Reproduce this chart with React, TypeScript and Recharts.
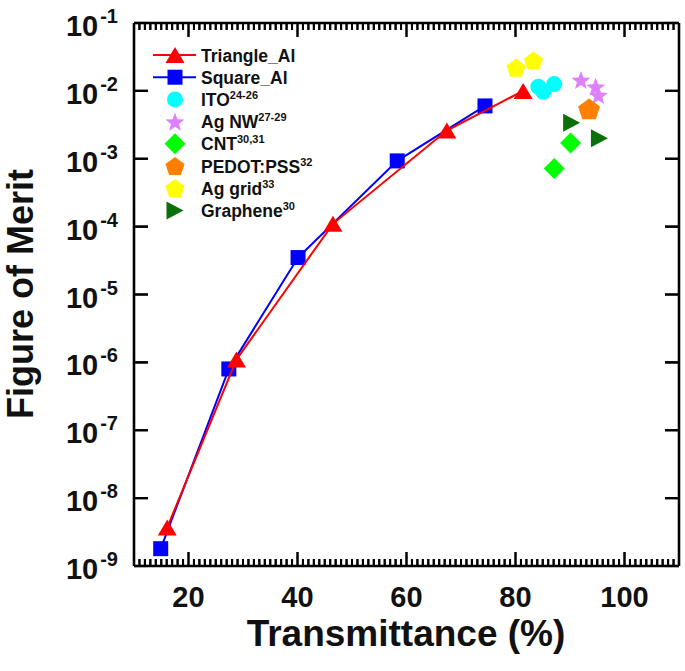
import React from 'react';
import { ScatterChart, Scatter, XAxis, YAxis, ReferenceLine } from 'recharts';

const FONT = '"Liberation Sans", Arial, Helvetica, sans-serif';

// ---- data (Transmittance %, Figure of Merit) ----
const triangleAlT = [16.1, 28.8, 46.5, 67.4, 81.4];
const triangleAlF = [3.7e-9, 1.1e-6, 1.1e-4, 2.6e-3, 1.0e-2];
const squareAlT = [14.9, 27.4, 40.1, 58.3, 74.4];
const squareAlF = [1.8e-9, 8.0e-7, 3.5e-5, 9.3e-4, 6.0e-3];
const itoT = [84.2, 85.1, 87.1];
const itoF = [1.15e-2, 9.7e-3, 1.26e-2];
const agnwT = [92.0, 94.7, 95.2];
const agnwF = [1.45e-2, 1.15e-2, 8.7e-3];
const cntT = [87.1, 90.1];
const cntF = [7.2e-4, 1.7e-3];
const pedotT = [93.5];
const pedotF = [5.4e-3];
const aggridT = [80.1, 83.3];
const aggridF = [2.2e-2, 2.8e-2];
const grapheneT = [90.3, 95.4];
const grapheneF = [3.4e-3, 2.0e-3];

// ---- ticks ----
const xMajorTicks = [20, 40, 60, 80, 100];
const xDomain: [number, number] = [10, 110];
const yDomain: [number, number] = [1e-9, 1e-1];
const yTickExponents = [-9, -8, -7, -6, -5, -4, -3, -2, -1];
const yTicks = yTickExponents.map((e) => Math.pow(10, e));
const xAllTicks = Array.from({ length: xDomain[1] - xDomain[0] + 1 }, (_, i) => xDomain[0] + i);

// ---- layout ----
const W = 685;
const H = 671;
const MARGIN = { top: 23, right: 6, bottom: 45, left: 10 };
const XAXIS_H = 60;
const YAXIS_W = 124;
const PLOT_W = W - MARGIN.left - MARGIN.right - YAXIS_W;
const PLOT_H = H - MARGIN.top - MARGIN.bottom - XAXIS_H;
const PX_PER_DECADE = PLOT_H / (yTickExponents.length - 1);
const PX_PER_UNIT = PLOT_W / (xDomain[1] - xDomain[0]);
const MAJOR_LEN = 14;
const MINOR_LEN = 7;

const toPoints = (xs: number[], ys: number[]) => xs.map((x, i) => ({ x, y: ys[i] }));

// ---- marker shapes ----
const Tri = ({ cx, cy, color, w = 19, h = 16 }: any) => (
  <polygon points={`${cx},${cy - h / 2} ${cx + w / 2},${cy + h / 2} ${cx - w / 2},${cy + h / 2}`} fill={color} />
);
const RTri = ({ cx, cy, color, w = 17, h = 18 }: any) => (
  <polygon points={`${cx + w / 2},${cy} ${cx - w / 2},${cy - h / 2} ${cx - w / 2},${cy + h / 2}`} fill={color} />
);
const Sq = ({ cx, cy, color, s = 15 }: any) => <rect x={cx - s / 2} y={cy - s / 2} width={s} height={s} fill={color} />;
const Circ = ({ cx, cy, color, r = 8 }: any) => <circle cx={cx} cy={cy} r={r} fill={color} />;
const Diamond = ({ cx, cy, color, r = 10.5 }: any) => (
  <polygon points={`${cx},${cy - r} ${cx + r},${cy} ${cx},${cy + r} ${cx - r},${cy}`} fill={color} />
);
const polyPts = (cx: number, cy: number, n: number, rOuter: number, rInner?: number) => {
  const pts: string[] = [];
  const total = rInner ? n * 2 : n;
  for (let i = 0; i < total; i++) {
    const r = rInner ? (i % 2 === 0 ? rOuter : rInner) : rOuter;
    const a = -Math.PI / 2 + (i * 2 * Math.PI) / total;
    pts.push(`${cx + r * Math.cos(a)},${cy + r * Math.sin(a)}`);
  }
  return pts.join(' ');
};
const Penta = ({ cx, cy, color, r = 10 }: any) => <polygon points={polyPts(cx, cy + 1, 5, r)} fill={color} />;
const Star = ({ cx, cy, color, r = 10 }: any) => <polygon points={polyPts(cx, cy + 1, 5, r, r * 0.42)} fill={color} />;

const RED = '#ff0000';
const BLUE = '#0000ff';
const CYAN = '#00ffff';
const VIOLET = '#df80ff';
const GREEN = '#00ff00';
const ORANGE = '#ff7f00';
const YELLOW = '#ffff00';
const DKGREEN = '#0a700a';

// ---- axis ticks: labels + inward marks (mirrored on top / right) ----
const renderBottomTick = (props: any) => {
  const x = Number(props.x);
  const y = Number(props.y);
  const v = props.payload.value;
  const major = xMajorTicks.includes(v);
  const len = major ? MAJOR_LEN : MINOR_LEN;
  const yt = y - PLOT_H;
  return (
    <g key={`b${v}`}>
      <path d={`M${x},${y}L${x},${y - len}M${x},${yt}L${x},${yt + len}`} stroke="#000" strokeWidth={2} fill="none" />
      {major && (
        <text x={x} y={y + 41} textAnchor="middle" fontFamily={FONT} fontWeight="bold" fontSize={29} fill="#111">
          {v}
        </text>
      )}
    </g>
  );
};
const renderLeftTick = (props: any) => {
  const x = Number(props.x);
  const y = Number(props.y);
  const v = props.payload.value;
  const exp = Math.round(Math.log10(v));
  const xr = x + PLOT_W;
  return (
    <g key={`l${exp}`}>
      <path d={`M${x},${y}L${x + MAJOR_LEN},${y}M${xr},${y}L${xr - MAJOR_LEN},${y}`} stroke="#000" strokeWidth={2.2} fill="none" />
      <text x={x - 16} y={y + 13} textAnchor="end" fontFamily={FONT} fontWeight="bold" fontSize={29} fill="#111">
        <tspan>10</tspan>
        <tspan fontSize={20} dx={2} dy={-13}>{`-${Math.abs(exp)}`}</tspan>
      </text>
    </g>
  );
};

// ---- same inward marks also as reference segments (library scales) ----
const tickSegments = () => {
  const out: any[] = [];
  const yBot = yDomain[0];
  const yTop = yDomain[1];
  xAllTicks.forEach((v) => {
    const len = xMajorTicks.includes(v) ? MAJOR_LEN : MINOR_LEN;
    const f = Math.pow(10, len / PX_PER_DECADE);
    out.push(
      <ReferenceLine key={`xb${v}`} xAxisId="b" yAxisId="l" segment={[{ x: v, y: yBot }, { x: v, y: yBot * f }]} stroke="#000" strokeWidth={2} ifOverflow="visible" />
    );
    out.push(
      <ReferenceLine key={`xt${v}`} xAxisId="b" yAxisId="l" segment={[{ x: v, y: yTop }, { x: v, y: yTop / f }]} stroke="#000" strokeWidth={2} ifOverflow="visible" />
    );
  });
  const dx = MAJOR_LEN / PX_PER_UNIT;
  yTicks.forEach((t, i) => {
    out.push(
      <ReferenceLine key={`yl${i}`} xAxisId="b" yAxisId="l" segment={[{ x: xDomain[0], y: t }, { x: xDomain[0] + dx, y: t }]} stroke="#000" strokeWidth={2.2} ifOverflow="visible" />
    );
    out.push(
      <ReferenceLine key={`yr${i}`} xAxisId="b" yAxisId="l" segment={[{ x: xDomain[1], y: t }, { x: xDomain[1] - dx, y: t }]} stroke="#000" strokeWidth={2.2} ifOverflow="visible" />
    );
  });
  return out;
};

// ---- legend ----
const legendItems = [
  { name: 'Triangle_Al', sup: '', color: RED, shape: Tri, line: true },
  { name: 'Square_Al', sup: '', color: BLUE, shape: Sq, line: true },
  { name: 'ITO', sup: '24-26', color: CYAN, shape: Circ, line: false },
  { name: 'Ag NW', sup: '27-29', color: VIOLET, shape: Star, line: false },
  { name: 'CNT', sup: '30,31', color: GREEN, shape: Diamond, line: false },
  { name: 'PEDOT:PSS', sup: '32', color: ORANGE, shape: Penta, line: false },
  { name: 'Ag grid', sup: '33', color: YELLOW, shape: Penta, line: false },
  { name: 'Graphene', sup: '30', color: DKGREEN, shape: RTri, line: false },
];

const Overlay = () => (
  <svg width={W} height={H} style={{ position: 'absolute', left: 0, top: 0 }}>
    {legendItems.map((it, i) => {
      const cy = 55 + i * 22.2;
      const S = it.shape;
      return (
        <g key={it.name}>
          {it.line && <line x1={153} x2={196} y1={cy} y2={cy} stroke={it.color} strokeWidth={2} />}
          <S cx={175} cy={cy} color={it.color} />
          <text x={201} y={cy + 6.5} fontFamily={FONT} fontWeight="bold" fontSize={17.5} fill="#111">
            {it.name}
            {it.sup && (
              <tspan fontSize={11} dy={-7}>
                {it.sup}
              </tspan>
            )}
          </text>
        </g>
      );
    })}
    <text x={406} y={646} textAnchor="middle" fontFamily={FONT} fontWeight="bold" fontSize={37} fill="#111">
      Transmittance (%)
    </text>
    <text x={33} y={294} transform="rotate(-90 33 294)" textAnchor="middle" fontFamily={FONT} fontWeight="bold" fontSize={36} fill="#111">
      Figure of Merit
    </text>
  </svg>
);

const shapeOf = (Comp: any, color: string) => (p: any) => <Comp cx={p.cx} cy={p.cy} color={color} />;

export default function App() {
  return (
    <div style={{ position: 'absolute', left: 0, top: 0, width: W, height: H, background: '#fff' }}>
      <Overlay />
      <div style={{ position: 'absolute', left: 0, top: 0 }}>
        <ScatterChart width={W} height={H} margin={MARGIN}>
          <XAxis
            xAxisId="b"
            type="number"
            dataKey="x"
            domain={xDomain}
            allowDataOverflow
            ticks={xAllTicks}
            interval={0}
            height={XAXIS_H}
            tickSize={0}
            tickMargin={0}
            tickLine={false}
            axisLine={{ stroke: '#000', strokeWidth: 2.6 }}
            tick={renderBottomTick}
          />
          <YAxis
            yAxisId="l"
            type="number"
            dataKey="y"
            scale="log"
            domain={yDomain}
            allowDataOverflow
            ticks={yTicks}
            interval={0}
            width={YAXIS_W}
            tickSize={0}
            tickMargin={0}
            tickLine={false}
            axisLine={{ stroke: '#000', strokeWidth: 2.6 }}
            tick={renderLeftTick}
          />
          <ReferenceLine xAxisId="b" yAxisId="l" y={yDomain[1]} stroke="#000" strokeWidth={2.6} ifOverflow="visible" />
          <ReferenceLine xAxisId="b" yAxisId="l" x={xDomain[1]} stroke="#000" strokeWidth={2.6} ifOverflow="visible" />
          {tickSegments()}
          <Scatter xAxisId="b" yAxisId="l" name="Square_Al" data={toPoints(squareAlT, squareAlF)} line={{ stroke: BLUE, strokeWidth: 2 }} lineType="joint" shape={shapeOf(Sq, BLUE)} isAnimationActive={false} />
          <Scatter xAxisId="b" yAxisId="l" name="Triangle_Al" data={toPoints(triangleAlT, triangleAlF)} line={{ stroke: RED, strokeWidth: 2 }} lineType="joint" shape={shapeOf(Tri, RED)} isAnimationActive={false} />
          <Scatter xAxisId="b" yAxisId="l" name="Ag grid" data={toPoints(aggridT, aggridF)} shape={shapeOf(Penta, YELLOW)} isAnimationActive={false} />
          <Scatter xAxisId="b" yAxisId="l" name="ITO" data={toPoints(itoT, itoF)} shape={shapeOf(Circ, CYAN)} isAnimationActive={false} />
          <Scatter xAxisId="b" yAxisId="l" name="Ag NW" data={toPoints(agnwT, agnwF)} shape={shapeOf(Star, VIOLET)} isAnimationActive={false} />
          <Scatter xAxisId="b" yAxisId="l" name="PEDOT:PSS" data={toPoints(pedotT, pedotF)} shape={(p: any) => <Penta cx={p.cx} cy={p.cy} color={ORANGE} r={11.5} />} isAnimationActive={false} />
          <Scatter xAxisId="b" yAxisId="l" name="CNT" data={toPoints(cntT, cntF)} shape={shapeOf(Diamond, GREEN)} isAnimationActive={false} />
          <Scatter xAxisId="b" yAxisId="l" name="Graphene" data={toPoints(grapheneT, grapheneF)} shape={shapeOf(RTri, DKGREEN)} isAnimationActive={false} />
        </ScatterChart>
      </div>
    </div>
  );
}
